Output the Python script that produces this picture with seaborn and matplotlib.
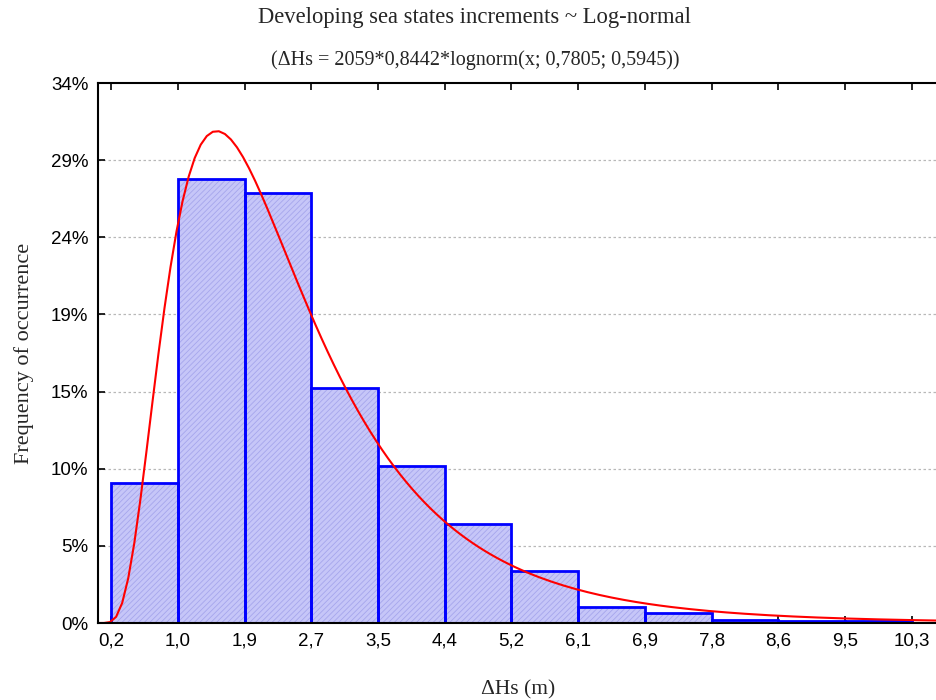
import numpy as np
import pandas as pd
import matplotlib
matplotlib.use("Agg")
import matplotlib.pyplot as plt
import seaborn as sns

# Binned wave-height increments (counts per class) and the fitted log-normal
n_total = 2059
fit_width = 0.8442
fit_mu = 0.7805
fit_sigma = 0.5945

edge_labels = ["0,2", "1,0", "1,9", "2,7", "3,5", "4,4", "5,2", "6,1",
               "6,9", "7,8", "8,6", "9,5", "10,3"]
hist_min = 0.2
hist_max = 10.3
counts = [181, 576, 557, 305, 203, 128, 67, 21, 13, 4, 2, 2]
y_count_ticks = [0, 100, 200, 300, 400, 500, 600, 700]

edges = [float(e) for e in np.linspace(hist_min, hist_max, len(counts) + 1)]
centers = [(a + b) / 2 for a, b in zip(edges[:-1], edges[1:])]
df = pd.DataFrame({"dHs": centers, "n": counts})

sns.set_style("white")
plt.rcParams["font.family"] = ["Liberation Sans", "DejaVu Sans"]
plt.rcParams["hatch.linewidth"] = 0.6

fig = plt.figure(figsize=(9.36, 7.0), dpi=100)
ax = fig.add_axes([98 / 936, 77 / 700, 840 / 936, 540 / 700])

xmin, xmax = 0.0356, 10.63

# grid behind the bars
for c in y_count_ticks[1:-1]:
    ax.axhline(c, color="#b8b8b8", lw=0.9, ls=(0, (2, 2)), zorder=0)

# hatched fill
sns.histplot(data=df, x="dHs", weights="n", bins=edges, ax=ax,
             stat="count", element="bars", fill=True,
             color="#c6c6f8", alpha=1.0, linewidth=0, zorder=1)
for p in ax.patches:
    p.set_facecolor("#c6c6f8")
    p.set_edgecolor("#a6a6ec")
    p.set_hatch("//////")
    p.set_linewidth(0)

# bar outlines
sns.histplot(data=df, x="dHs", weights="n", bins=edges, ax=ax,
             stat="count", element="bars", fill=False,
             color="#0000ff", linewidth=2.0, zorder=2)

# fitted curve: N * width * lognorm pdf
xs = np.linspace(xmin, xmax, 140)
pdf = np.exp(-(np.log(xs) - fit_mu) ** 2 / (2 * fit_sigma ** 2)) / (
    xs * fit_sigma * np.sqrt(2 * np.pi))
curve = pd.DataFrame({"x": xs, "y": n_total * fit_width * pdf})
sns.lineplot(data=curve, x="x", y="y", ax=ax, color="#ff0000",
             linewidth=1.5, zorder=3)

ax.set_xlim(xmin, xmax)
ax.set_ylim(0, 700)
ax.set_xticks(edges)
ax.set_xticklabels(edge_labels)
ax.set_yticks(y_count_ticks)
ax.set_yticklabels([f"{round(c / n_total * 100)}%" for c in y_count_ticks])

ax.tick_params(axis="both", labelsize=13.5, direction="in", length=5,
               width=1.2, color="black", pad=7, labelcolor="black")
ax.tick_params(axis="x", top=True, bottom=True)
ax.tick_params(axis="y", left=True, right=False)

for s in ax.spines.values():
    s.set_color("black")
    s.set_linewidth(1.5)
    s.set_zorder(5)

ax.set_xlabel("ΔHs (m)", family="Liberation Serif", fontsize=15.5, labelpad=22)
ax.set_ylabel("Frequency of occurrence", family="Liberation Serif",
              fontsize=16, labelpad=12)

fig.text(474 / 936, 1 - 18 / 700,
         "Developing sea states increments ~ Log-normal",
         family="Liberation Serif", fontsize=16.3, ha="center", va="center")
fig.text(475 / 936, 1 - 60 / 700,
         "(ΔHs = 2059*0,8442*lognorm(x; 0,7805; 0,5945))",
         family="Liberation Serif", fontsize=14.5, ha="center", va="center")

fig.savefig("out.png", dpi=100)
